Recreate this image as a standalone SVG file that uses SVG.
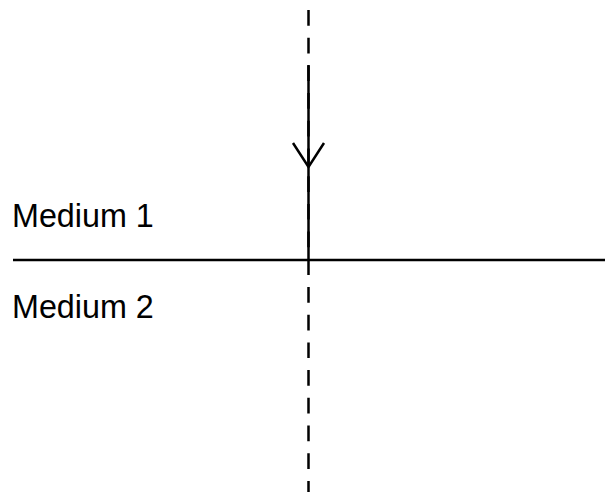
<svg xmlns="http://www.w3.org/2000/svg" width="605" height="492" viewBox="0 0 605 492">
<style>
.ln{stroke:#000;stroke-width:2.5;fill:none}
.dash{stroke-dasharray:15.7 12}
.lbl{font-family:"Liberation Sans",Arial,sans-serif;font-size:32.3px;fill:#000}
</style>
<rect width="605" height="492" fill="#fff"/>
<g id="connectors">
<line class="ln dash" x1="308.5" y1="10" x2="308.5" y2="492"/>
<line class="ln" x1="308.5" y1="65" x2="308.5" y2="260"/>
<polyline class="ln" points="293,143 308.5,167 324,143"/>
</g>
<g id="interface">
<line class="ln" x1="13" y1="260" x2="605" y2="260"/>
</g>
<g id="medium1"><text class="lbl" x="12" y="227">Medium 1</text></g>
<g id="medium2"><text class="lbl" x="12" y="318">Medium 2</text></g>
</svg>
